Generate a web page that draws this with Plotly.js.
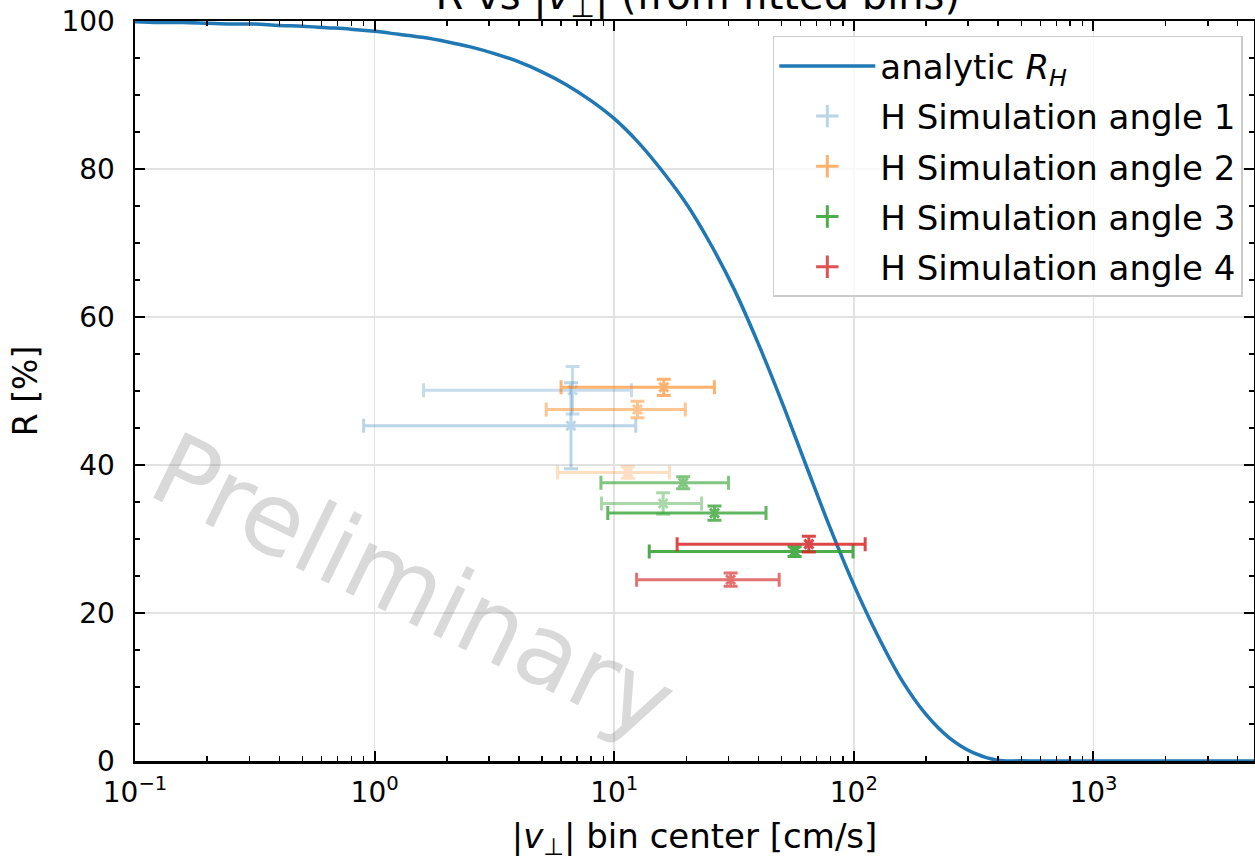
<!DOCTYPE html>
<html><head><meta charset="utf-8">
<script src="https://cdn.plot.ly/plotly-3.0.1.min.js"></script>
<style>html,body{margin:0;padding:0;background:#fff}#chart{width:1255px;height:861px}</style>
</head><body><div id="chart"></div>
<script>
// analytic curve (every 0.1 decade)
const curveV = [0.1, 0.126, 0.158, 0.2, 0.251, 0.316, 0.398, 0.501, 0.631, 0.794, 1, 1.26, 1.58, 2.0, 2.51, 3.16, 3.98, 5.01, 6.31, 7.94,
                10, 12.6, 15.8, 20.0, 25.1, 31.6, 39.8, 50.1, 63.1, 79.4, 100, 126, 158, 200, 251, 316, 398, 501, 631, 1000, 2000, 5000];
const curveR = [99.9, 99.8, 99.8, 99.7, 99.6, 99.6, 99.4, 99.3, 99.1, 98.9, 98.6, 98.2, 97.8, 97.2, 96.5, 95.6, 94.5, 93.1, 91.4, 89.3,
                86.8, 83.6, 79.8, 75.3, 70.0, 63.8, 56.5, 48.5, 40.0, 31.6, 23.8, 16.9, 11.0, 6.3, 3.1, 1.1, 0.1, 0.02, 0.0, 0.0, 0.0, 0.0];

// simulation points: bin centre, R, half bin width, R error
const angle1V = [6.7, 6.6];
const angle1R = [50.1, 45.3];
const angle1Verr = [5.1, 5.7];
const angle1Rerr = [3.2, 5.8];

const angle2V = [16.1, 12.5, 11.4];
const angle2R = [50.5, 47.5, 39.0];
const angle2Verr = [10.1, 7.3, 5.6];
const angle2Rerr = [1.1, 1.1, 0.8];

const angle3V = [19.4, 16.0, 26.2, 56.6];
const angle3R = [37.6, 34.8, 33.5, 28.3];
const angle3Verr = [10.6, 7.15, 16.8, 42.6];
const angle3Rerr = [0.8, 1.45, 0.95, 0.65];

const angle4V = [64.9, 30.6];
const angle4R = [29.3, 24.5];
const angle4Verr = [46.6, 18.2];
const angle4Rerr = [1.06, 0.9];

const seriesNames = ['H Simulation angle 1', 'H Simulation angle 2', 'H Simulation angle 3', 'H Simulation angle 4'];
const curveName = 'analytic <i>R</i><sub><i>H</i></sub>';

const xTickVals = [0.1, 1, 10, 100, 1000];
const xTickText = ['10<sup>\u22121</sup>', '10<sup>0</sup>', '10<sup>1</sup>', '10<sup>2</sup>', '10<sup>3</sup>'];
const yTickVals = [0, 20, 40, 60, 80, 100];

// styles (kept apart from the data)
const styles = {
  colors: ['#1f77b4', '#ff7f0e', '#2ca02c', '#d62728'],
  pointAlpha: [[0.25, 0.3], [0.6, 0.45, 0.25], [0.6, 0.4, 0.75, 0.85], [0.85, 0.65]],
  legendAlpha: [0.3, 0.6, 0.85, 0.8]
};

const font = 'DejaVu Sans, sans-serif';
const data = [[angle1V, angle1R, angle1Verr, angle1Rerr], [angle2V, angle2R, angle2Verr, angle2Rerr],
              [angle3V, angle3R, angle3Verr, angle3Rerr], [angle4V, angle4R, angle4Verr, angle4Rerr]];

const traces = [{
  type: 'scatter', mode: 'lines', x: curveV, y: curveR, name: curveName, legendgroup: 'curve',
  line: {color: '#1f77b4', width: 3.5, shape: 'spline', smoothing: 1}, hoverinfo: 'skip'
}];

data.forEach(function (s, k) {
  const col = styles.colors[k];
  traces.push({
    type: 'scatter', mode: 'markers', x: [null], y: [null], name: seriesNames[k], legendgroup: 'g' + k,
    showlegend: true, opacity: styles.legendAlpha[k],
    marker: {symbol: 'cross-thin-open', size: 16, color: col, line: {width: 3, color: col}}
  });
  s[0].forEach(function (v, i) {
    traces.push({
      type: 'scatter', mode: 'markers', x: [v], y: [s[1][i]], legendgroup: 'g' + k, showlegend: false,
      opacity: styles.pointAlpha[k][i], hoverinfo: 'skip',
      marker: {symbol: 'x-thin-open', size: 9, color: col, line: {width: 3, color: col}},
      error_x: {type: 'data', symmetric: true, array: [s[2][i]], color: col, thickness: 3, width: 7},
      error_y: {type: 'data', symmetric: true, array: [s[3][i]], color: col, thickness: 3, width: 7}
    });
  });
});

const axisCommon = {
  ticks: 'inside', ticklen: 10, tickwidth: 2, tickcolor: '#000',
  showline: true, linecolor: '#000', linewidth: 2.5, mirror: 'allticks',
  showgrid: true, gridcolor: '#e2e2e2', gridwidth: 1.5, zeroline: false,
  tickfont: {family: font, size: 28, color: '#000'}
};

const layout = {
  width: 1255, height: 861,
  margin: {l: 135, r: 1, t: 21, b: 100, pad: 0},
  paper_bgcolor: '#fff', plot_bgcolor: '#fff',
  font: {family: font, color: '#000'},
  title: {text: 'R vs |<i>v</i><sub>\u22A5</sub>| (from fitted bins)', font: {family: font, size: 40, color: '#000'},
          xref: 'paper', x: 0.503, xanchor: 'center', yref: 'paper', y: 1, yanchor: 'bottom', pad: {b: 12}},
  xaxis: Object.assign({}, axisCommon, {
    type: 'log', range: [-1, 3.670], tickmode: 'array', tickvals: xTickVals, ticktext: xTickText,
    ticklabelstandoff: 5,
    minor: {ticks: 'inside', ticklen: 5, tickwidth: 1.5, tickcolor: '#000', dtick: 'D1', showgrid: false},
    title: {text: '|<i>v</i><sub>\u22A5</sub>| bin center [cm/s]', font: {family: font, size: 34, color: '#000'}, standoff: 16}
  }),
  yaxis: Object.assign({}, axisCommon, {
    range: [0, 100], tickmode: 'array', tickvals: yTickVals, ticklabelstandoff: 12,
    minor: {ticks: 'inside', ticklen: 5, tickwidth: 1.5, tickcolor: '#000', dtick: 5, showgrid: false},
    title: {text: 'R [%]', font: {family: font, size: 33, color: '#000'}, standoff: 14}
  }),
  legend: {
    x: 0.99, xanchor: 'right', y: 0.98, yanchor: 'top',
    bgcolor: 'rgba(255,255,255,0.8)', bordercolor: '#cccccc', borderwidth: 1.5,
    font: {family: font, size: 34, color: '#000'}, tracegroupgap: 3, itemwidth: 96
  },
  annotations: [{
    text: 'Preliminary', xref: 'paper', yref: 'paper', x: 0.249, y: 0.236, xanchor: 'center', yanchor: 'middle',
    showarrow: false, textangle: 26, font: {family: font, size: 100, color: 'rgba(128,128,128,0.3)'}
  }]
};

Plotly.newPlot('chart', traces, layout, {displayModeBar: false, staticPlot: true});
</script>
</body></html>
